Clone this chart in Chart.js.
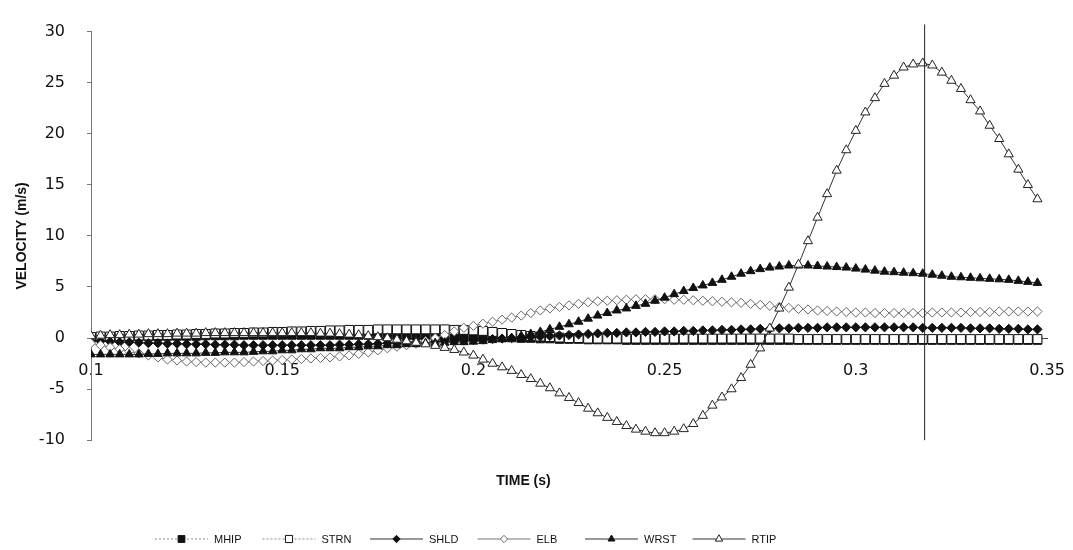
<!DOCTYPE html>
<html>
<head>
<meta charset="utf-8">
<script src="https://cdn.jsdelivr.net/npm/chart.js@4/dist/chart.umd.min.js"></script>
<style>
html,body{margin:0;padding:0;background:#fff;}
#wrap{width:1073px;height:550px;position:relative;}
</style>
</head>
<body>
<div id="wrap"><canvas id="c" width="1073" height="550"></canvas></div>
<script>
// ---- data (time in s, velocity in m/s) ----
const times = [
0.1000,0.1025,0.1050,0.1075,0.1100,0.1125,0.1150,0.1175,0.1200,0.1225,
0.1250,0.1275,0.1300,0.1325,0.1350,0.1375,0.1400,0.1425,0.1450,0.1475,
0.1500,0.1525,0.1550,0.1575,0.1600,0.1625,0.1650,0.1675,0.1700,0.1725,
0.1750,0.1775,0.1800,0.1825,0.1850,0.1875,0.1900,0.1925,0.1950,0.1975,
0.2000,0.2025,0.2050,0.2075,0.2100,0.2125,0.2150,0.2175,0.2200,0.2225,
0.2250,0.2275,0.2300,0.2325,0.2350,0.2375,0.2400,0.2425,0.2450,0.2475,
0.2500,0.2525,0.2550,0.2575,0.2600,0.2625,0.2650,0.2675,0.2700,0.2725,
0.2750,0.2775,0.2800,0.2825,0.2850,0.2875,0.2900,0.2925,0.2950,0.2975,
0.3000,0.3025,0.3050,0.3075,0.3100,0.3125,0.3150,0.3175,0.3200,0.3225,
0.3250,0.3275,0.3300,0.3325,0.3350,0.3375,0.3400,0.3425,0.3450,0.3475];

const MHIP = [
0.05,0.05,0.1,0.1,0.1,0.15,0.15,0.15,0.2,0.2,
0.2,0.2,0.25,0.25,0.25,0.25,0.3,0.3,0.3,0.3,
0.3,0.3,0.3,0.3,0.3,0.3,0.3,0.3,0.3,0.3,
0.3,0.3,0.3,0.25,0.25,0.25,0.2,0.2,0.2,0.15,
0.15,0.1,0.1,0.05,0.05,0.0,0.0,-0.05,-0.05,-0.1,
-0.1,-0.1,-0.15,-0.15,-0.15,-0.15,-0.2,-0.2,-0.2,-0.2,
-0.2,-0.2,-0.2,-0.2,-0.2,-0.2,-0.2,-0.2,-0.2,-0.2,
-0.2,-0.2,-0.2,-0.2,-0.2,-0.2,-0.2,-0.2,-0.2,-0.2,
-0.2,-0.2,-0.2,-0.2,-0.2,-0.2,-0.2,-0.2,-0.2,-0.2,
-0.2,-0.2,-0.2,-0.2,-0.2,-0.2,-0.2,-0.2,-0.2,-0.2];

const STRN = [
0.1,0.15,0.15,0.2,0.2,0.25,0.25,0.3,0.3,0.35,
0.35,0.4,0.4,0.45,0.45,0.5,0.5,0.55,0.55,0.6,
0.6,0.65,0.65,0.7,0.7,0.75,0.75,0.8,0.8,0.8,
0.85,0.85,0.85,0.85,0.85,0.85,0.85,0.85,0.8,0.8,
0.75,0.7,0.6,0.5,0.4,0.3,0.2,0.15,0.1,0.05,
0.0,0.0,-0.05,-0.05,-0.05,-0.05,-0.05,-0.05,-0.05,-0.05,
-0.05,-0.05,-0.05,-0.05,-0.05,-0.05,-0.05,-0.05,-0.05,-0.05,
-0.05,-0.05,-0.05,-0.05,-0.1,-0.1,-0.1,-0.1,-0.1,-0.1,
-0.1,-0.1,-0.1,-0.1,-0.1,-0.1,-0.1,-0.1,-0.1,-0.1,
-0.1,-0.1,-0.1,-0.1,-0.1,-0.1,-0.1,-0.1,-0.1,-0.1];

const SHLD = [
-0.3,-0.3,-0.35,-0.4,-0.4,-0.45,-0.5,-0.5,-0.55,-0.55,
-0.6,-0.6,-0.6,-0.65,-0.65,-0.65,-0.7,-0.7,-0.7,-0.7,
-0.7,-0.7,-0.7,-0.7,-0.7,-0.7,-0.65,-0.65,-0.6,-0.6,
-0.55,-0.5,-0.5,-0.45,-0.4,-0.4,-0.35,-0.3,-0.3,-0.25,
-0.2,-0.15,-0.1,-0.05,0.0,0.05,0.1,0.15,0.2,0.25,
0.3,0.35,0.4,0.45,0.5,0.5,0.55,0.55,0.6,0.6,
0.65,0.65,0.7,0.7,0.75,0.75,0.8,0.8,0.85,0.85,
0.9,0.9,0.95,0.95,1.0,1.0,1.0,1.05,1.05,1.05,
1.05,1.05,1.05,1.05,1.05,1.05,1.05,1.0,1.0,1.0,
1.0,1.0,0.95,0.95,0.95,0.9,0.9,0.9,0.85,0.85];

const ELB = [
-0.5,-0.7,-0.9,-1.1,-1.3,-1.5,-1.7,-1.9,-2.1,-2.2,
-2.3,-2.35,-2.4,-2.4,-2.4,-2.4,-2.35,-2.3,-2.25,-2.2,
-2.15,-2.1,-2.05,-2.0,-1.95,-1.9,-1.8,-1.7,-1.55,-1.4,
-1.2,-1.0,-0.85,-0.7,-0.55,-0.3,0.0,0.3,0.65,1.0,
1.2,1.4,1.6,1.8,2.0,2.2,2.45,2.7,2.9,3.05,
3.2,3.35,3.5,3.6,3.65,3.7,3.75,3.8,3.8,3.8,
3.8,3.75,3.75,3.7,3.65,3.6,3.55,3.5,3.45,3.35,
3.25,3.15,3.05,2.95,2.85,2.8,2.7,2.65,2.6,2.55,
2.5,2.5,2.45,2.45,2.45,2.45,2.45,2.45,2.5,2.5,
2.5,2.5,2.55,2.55,2.55,2.6,2.6,2.6,2.6,2.6];

const WRST = [
-1.6,-1.6,-1.6,-1.6,-1.6,-1.6,-1.55,-1.55,-1.5,-1.5,
-1.5,-1.5,-1.45,-1.45,-1.4,-1.4,-1.4,-1.35,-1.3,-1.3,
-1.2,-1.2,-1.1,-1.1,-1.0,-1.0,-1.0,-0.9,-0.9,-0.8,
-0.8,-0.7,-0.7,-0.6,-0.6,-0.5,-0.5,-0.45,-0.4,-0.4,
-0.35,-0.3,-0.2,-0.1,0.0,0.2,0.4,0.6,0.85,1.1,
1.35,1.6,1.9,2.2,2.45,2.7,2.9,3.15,3.35,3.65,
3.95,4.3,4.6,4.9,5.15,5.4,5.7,6.0,6.3,6.55,
6.75,6.9,7.0,7.1,7.1,7.1,7.05,7.0,6.95,6.9,
6.8,6.7,6.6,6.5,6.45,6.4,6.35,6.3,6.2,6.1,
6.0,5.95,5.9,5.85,5.8,5.75,5.7,5.6,5.5,5.4];

const RTIP = [
0.2,0.25,0.3,0.3,0.35,0.35,0.4,0.4,0.4,0.45,
0.45,0.45,0.5,0.5,0.5,0.5,0.5,0.5,0.5,0.5,
0.5,0.5,0.5,0.5,0.45,0.45,0.4,0.35,0.3,0.2,
0.1,0.0,-0.15,-0.3,-0.45,-0.6,-0.75,-0.95,-1.15,-1.4,
-1.7,-2.1,-2.5,-2.85,-3.2,-3.6,-4.0,-4.45,-4.9,-5.4,
-5.85,-6.35,-6.9,-7.35,-7.8,-8.2,-8.6,-8.95,-9.15,-9.3,
-9.3,-9.15,-8.9,-8.4,-7.6,-6.6,-5.8,-5.0,-3.9,-2.6,
-1.0,0.95,2.9,4.95,7.2,9.5,11.8,14.1,16.4,18.4,
20.3,22.1,23.5,24.9,25.7,26.5,26.8,26.9,26.7,26.0,
25.2,24.4,23.3,22.2,20.8,19.5,18.0,16.5,15.0,13.6];

const seriesNames = ['MHIP','STRN','SHLD','ELB','WRST','RTIP'];
const seriesValues = [MHIP, STRN, SHLD, ELB, WRST, RTIP];

// vertical reference line (time of peak RTIP velocity)
const markerTime = [0.318, 0.318];
const markerVel = [-10, 30.7];

const xTicks = [0.1, 0.15, 0.2, 0.25, 0.3, 0.35];
const xTickLabels = ['0.1', '0.15', '0.2', '0.25', '0.3', '0.35'];
const yTicks = [-10, -5, 0, 5, 10, 15, 20, 25, 30];

// ---- styles ----
const styles = [
  {shape:'rect',    fill:'#111', edge:'#111', line:'#8a8a8a', dash:[2,2], r:6.0, order:6},
  {shape:'rect',    fill:'#fff', edge:'#111', line:'#8a8a8a', dash:[2,2], r:6.3, order:5},
  {shape:'rectRot', fill:'#111', edge:'#111', line:'#333',    dash:[],    r:4.6, order:4},
  {shape:'rectRot', fill:'#fff', edge:'#666', line:'#777',    dash:[],    r:4.6, order:3},
  {shape:'triangle',fill:'#111', edge:'#111', line:'#333',    dash:[],    r:5.0, order:2},
  {shape:'triangle',fill:'#fff', edge:'#222', line:'#333',    dash:[],    r:5.3, order:1}
];

const datasets = seriesNames.map((name, k) => ({
  label: name,
  data: times.map((t, i) => ({x: t, y: seriesValues[k][i]})),
  borderColor: styles[k].line,
  borderWidth: 1,
  borderDash: styles[k].dash,
  pointStyle: styles[k].shape,
  pointRadius: styles[k].r,
  pointBackgroundColor: styles[k].fill,
  pointBorderColor: styles[k].edge,
  pointBorderWidth: 1,
  order: styles[k].order,
  tension: 0,
  fill: false
}));
datasets.push({
  label: 'peak',
  data: markerTime.map((t, i) => ({x: t, y: markerVel[i]})),
  borderColor: '#222',
  borderWidth: 1,
  pointRadius: 0,
  order: 0,
  clip: false,
  fill: false
});

const legendPlugin = {
  id: 'refLegend',
  afterDraw(chart, args, opts) {
    const ctx = chart.ctx;
    ctx.save();
    seriesNames.forEach((name, k) => {
      const st = styles[k];
      const x0 = opts.left + k * opts.step;
      const y = opts.y;
      ctx.beginPath();
      ctx.setLineDash(st.dash);
      ctx.strokeStyle = st.line;
      ctx.lineWidth = 1;
      ctx.moveTo(x0, y);
      ctx.lineTo(x0 + opts.lineLen, y);
      ctx.stroke();
      ctx.setLineDash([]);
      ctx.fillStyle = st.fill;
      ctx.strokeStyle = st.edge;
      ctx.lineWidth = 1;
      Chart.helpers.drawPoint(ctx, {pointStyle: st.shape, radius: st.r * 0.8, borderWidth: 1, rotation: 0},
        x0 + opts.lineLen / 2, y);
      ctx.fillStyle = '#111';
      ctx.font = "11px 'Liberation Sans', Arial, sans-serif";
      ctx.textBaseline = 'middle';
      ctx.textAlign = 'left';
      ctx.fillText(name, x0 + opts.lineLen + 6, y + 1);
    });
    ctx.restore();
  }
};

const tickFont = {family: "'DejaVu Sans', Verdana, sans-serif", size: 16};
const titleFont = {family: "'Liberation Sans', Arial, sans-serif", size: 14, weight: 'bold'};

new Chart(document.getElementById('c'), {
  type: 'line',
  data: {datasets},
  plugins: [legendPlugin],
  options: {
    responsive: false,
    animation: false,
    devicePixelRatio: 1,
    layout: {padding: {left: 0, right: 26, top: 20, bottom: 60}},
    plugins: {
      legend: {display: false},
      tooltip: {enabled: false},
      title: {
        display: true, text: 'TIME (s)', position: 'bottom',
        font: titleFont, color: '#111',
        padding: {top: 33, bottom: 0}
      },
      refLegend: {left: 155, step: 107.5, lineLen: 53, y: 539}
    },
    scales: {
      x: {
        type: 'linear',
        position: {y: 0},
        min: xTicks[0], max: xTicks[xTicks.length - 1],
        afterBuildTicks: s => { s.ticks = xTicks.map(v => ({value: v})); },
        ticks: {
          font: tickFont, color: '#111', padding: 2, maxRotation: 0, autoSkip: false,
          callback: (v) => xTickLabels[xTicks.indexOf(+v.toFixed(4))] ?? ''
        },
        grid: {display: true, drawOnChartArea: false, drawTicks: true, tickLength: 21,
               tickColor: 'rgba(0,0,0,0)'},
        border: {display: true, color: '#444', width: 1}
      },
      y: {
        type: 'linear',
        position: 'left',
        min: yTicks[0], max: yTicks[yTicks.length - 1],
        afterBuildTicks: s => { s.ticks = yTicks.map(v => ({value: v})); },
        afterFit: s => { s.width = 91; },
        ticks: {font: tickFont, color: '#111', padding: 22},
        grid: {display: true, drawOnChartArea: false, drawTicks: true, tickLength: 4, color: '#777'},
        border: {display: true, color: '#777', width: 1},
        title: {display: true, text: 'VELOCITY (m/s)', font: titleFont, color: '#111',
                padding: {top: 14, bottom: 0}}
      }
    }
  }
});
</script>
</body>
</html>
